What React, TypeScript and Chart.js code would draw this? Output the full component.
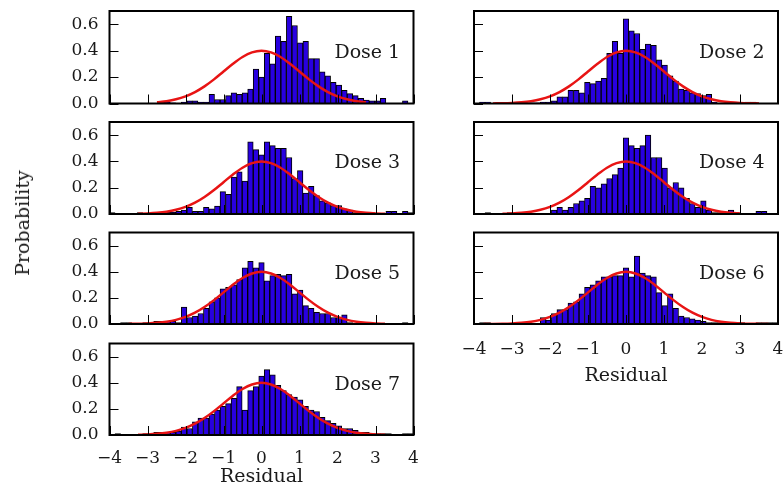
import React, { useEffect, useRef } from 'react';
import { Chart, registerables } from 'chart.js';

Chart.register(...registerables);

// ---------------- data ----------------
const BIN_START = -4;
const BIN_COUNT = 55;
const BIN_WIDTH = 8 / BIN_COUNT;

const DOSE_NAMES = ['Dose 1', 'Dose 2', 'Dose 3', 'Dose 4', 'Dose 5', 'Dose 6', 'Dose 7'];

const DOSE_1 = [
  0, 0, 0, 0, 0, 0, 0, 0, 0, 0.01, 0.01, 0.005, 0, 0.01, 0.02, 0.02, 0.01, 0.01, 0.07, 0.03,
  0.03, 0.06, 0.08, 0.07, 0.08, 0.11, 0.26, 0.2, 0.38, 0.3, 0.51, 0.47, 0.66, 0.59, 0.46, 0.47, 0.34, 0.34, 0.24, 0.21,
  0.16, 0.14, 0.1, 0.075, 0.06, 0.04, 0.025, 0.02, 0.02, 0.04, 0, 0, 0, 0.02, 0,
];
const DOSE_2 = [
  0, 0.01, 0.01, 0, 0, 0, 0, 0, 0, 0, 0.005, 0.005, 0.01, 0.01, 0.02, 0.05, 0.05, 0.1, 0.1, 0.08,
  0.16, 0.15, 0.17, 0.19, 0.38, 0.47, 0.38, 0.64, 0.55, 0.53, 0.41, 0.45, 0.44, 0.33, 0.29, 0.21, 0.17, 0.11, 0.1, 0.08,
  0.075, 0.06, 0.07, 0.01, 0, 0, 0, 0, 0, 0.01, 0.01, 0, 0, 0, 0,
];
const DOSE_3 = [
  0.01, 0.005, 0, 0, 0, 0.01, 0.005, 0, 0, 0.01, 0.015, 0.015, 0.02, 0.03, 0.05, 0.02, 0.02, 0.05, 0.04, 0.06,
  0.17, 0.15, 0.28, 0.32, 0.25, 0.55, 0.49, 0.45, 0.55, 0.52, 0.5, 0.5, 0.43, 0.27, 0.33, 0.16, 0.21, 0.14, 0.1, 0.085,
  0.065, 0.065, 0.04, 0.03, 0.01, 0.01, 0.005, 0.01, 0.005, 0, 0.02, 0.02, 0, 0.02, 0.01,
];
const DOSE_4 = [
  0, 0, 0.01, 0, 0, 0, 0.01, 0, 0, 0, 0, 0.005, 0.005, 0.005, 0.03, 0.05, 0.03, 0.05, 0.08, 0.1,
  0.12, 0.21, 0.2, 0.23, 0.27, 0.3, 0.35, 0.58, 0.52, 0.5, 0.52, 0.6, 0.43, 0.43, 0.35, 0.2, 0.24, 0.2, 0.12, 0.08,
  0.05, 0.1, 0.03, 0.01, 0.01, 0, 0.03, 0.01, 0, 0, 0, 0.02, 0.02, 0, 0,
];
const DOSE_5 = [
  0, 0, 0.01, 0.01, 0, 0, 0.01, 0.005, 0.02, 0.02, 0.02, 0.02, 0.01, 0.13, 0.05, 0.06, 0.08, 0.12, 0.17, 0.2,
  0.27, 0.28, 0.3, 0.34, 0.43, 0.48, 0.43, 0.47, 0.33, 0.37, 0.38, 0.37, 0.38, 0.23, 0.26, 0.14, 0.12, 0.09, 0.08, 0.08,
  0.05, 0.05, 0.07, 0.01, 0, 0, 0, 0, 0, 0, 0, 0, 0, 0.01, 0,
];
const DOSE_6 = [
  0, 0.01, 0.01, 0, 0, 0, 0, 0, 0, 0, 0, 0, 0.05, 0.03, 0.08, 0.11, 0.11, 0.16, 0.17, 0.23,
  0.28, 0.3, 0.33, 0.36, 0.36, 0.37, 0.37, 0.43, 0.36, 0.52, 0.39, 0.37, 0.36, 0.24, 0.14, 0.23, 0.12, 0.06, 0.05, 0.04,
  0.03, 0.02, 0.01, 0.01, 0.01, 0, 0.01, 0.01, 0.01, 0, 0, 0.01, 0.01, 0.01, 0.01,
];
const DOSE_7 = [
  0, 0.01, 0.005, 0, 0, 0, 0.01, 0.01, 0.02, 0.02, 0.02, 0.02, 0.03, 0.06, 0.05, 0.1, 0.13, 0.13, 0.16, 0.19,
  0.22, 0.24, 0.28, 0.37, 0.19, 0.34, 0.37, 0.45, 0.5, 0.46, 0.38, 0.34, 0.31, 0.29, 0.27, 0.22, 0.19, 0.18, 0.135, 0.11,
  0.09, 0.07, 0.05, 0.05, 0.035, 0.02, 0.02, 0.01, 0.01, 0.01, 0.01, 0, 0, 0.01, 0.01,
];
const DOSE_VALUES = [DOSE_1, DOSE_2, DOSE_3, DOSE_4, DOSE_5, DOSE_6, DOSE_7];

// standard normal density, sampled every 0.25
const CURVE_X = [
  -4, -3.75, -3.5, -3.25, -3, -2.75, -2.5, -2.25, -2, -1.75, -1.5, -1.25, -1, -0.75, -0.5, -0.25, 0,
  0.25, 0.5, 0.75, 1, 1.25, 1.5, 1.75, 2, 2.25, 2.5, 2.75, 3, 3.25, 3.5, 3.75, 4,
];
const CURVE_Y = [
  0.0001, 0.0004, 0.0009, 0.002, 0.0044, 0.0091, 0.0175, 0.0317, 0.054, 0.0863, 0.1295, 0.1826, 0.242, 0.3011, 0.3521, 0.3867, 0.3989,
  0.3867, 0.3521, 0.3011, 0.242, 0.1826, 0.1295, 0.0863, 0.054, 0.0317, 0.0175, 0.0091, 0.0044, 0.002, 0.0009, 0.0004, 0.0001,
];
const CURVE_SPANS = [
  [-2.75, 2.75], [-3.5, 3.5], [-3.25, 3.25], [-3.25, 3.0], [-3.5, 3.25], [-3.75, 3.75], [-3.25, 3.25],
];

const X_TICKS = [-4, -3, -2, -1, 0, 1, 2, 3, 4];
const Y_TICKS = [0, 0.2, 0.4, 0.6];
const X_MIN = -4;
const X_MAX = 4;
const Y_MIN = 0;
const Y_MAX = 0.7;
const X_LABEL = 'Residual';
const Y_LABEL = 'Probability';
const LABEL_AT = { x: 3.65, y: 0.4 };

// ---------------- layout / style ----------------
const W = 784;
const H = 491;
const FONT = '"DejaVu Serif", serif';
const TEXT = '#1a1a1a';
const BAR_FILL = '#2800e0';
const CURVE_COLOR = '#e81414';
const Y_AXIS_W = 50;
const COLS = [
  { left: 109.5, right: 413.5 },
  { left: 474, right: 778 },
];
const ROWS = [
  { top: 11, bottom: 103.5 },
  { top: 122, bottom: 214 },
  { top: 232.5, bottom: 324 },
  { top: 343.5, bottom: 435 },
];
// [col, row, x-axis height (0 = no labels), tick padding]
const PANEL_LAYOUT = [
  [0, 0, 0, 0],
  [1, 0, 0, 0],
  [0, 1, 0, 0],
  [1, 1, 0, 0],
  [0, 2, 0, 0],
  [1, 2, 61.5, 15],
  [0, 3, 51.5, 13],
];

const framePlugin = {
  id: 'frame',
  afterDatasetsDraw(chart: any, _args: any, opts: any) {
    const { ctx, chartArea: a } = chart;
    const x = chart.scales.x;
    const y = chart.scales.y;
    ctx.save();
    ctx.strokeStyle = '#000';
    ctx.lineWidth = 1;
    ctx.beginPath();
    for (const v of X_TICKS) {
      const px = Math.round(x.getPixelForValue(v)) + 0.5;
      ctx.moveTo(px, a.bottom);
      ctx.lineTo(px, a.bottom - 9);
    }
    for (const v of Y_TICKS) {
      const py = Math.round(y.getPixelForValue(v)) + 0.5;
      ctx.moveTo(a.left, py);
      ctx.lineTo(a.left + 9, py);
    }
    ctx.stroke();
    ctx.lineWidth = 2;
    ctx.strokeRect(a.left, a.top, a.right - a.left, a.bottom - a.top);
    ctx.fillStyle = TEXT;
    ctx.font = `19px ${FONT}`;
    ctx.textAlign = 'right';
    ctx.textBaseline = 'alphabetic';
    ctx.fillText(opts.label, x.getPixelForValue(LABEL_AT.x), y.getPixelForValue(LABEL_AT.y) + 7);
    ctx.restore();
  },
};

function Panel({ index }: { index: number }) {
  const ref = useRef<HTMLCanvasElement | null>(null);
  useEffect(() => {
    const [col, row, xH, tickPad] = PANEL_LAYOUT[index];
    const c = COLS[col];
    const r = ROWS[row];
    const showX = xH > 0;
    const showY = col === 0;
    const values = DOSE_VALUES[index];
    const bars = values.map((v, i) => ({ x: BIN_START + (i + 0.5) * BIN_WIDTH, y: v }));
    const [lo, hi] = CURVE_SPANS[index];
    const curve = CURVE_X.map((xv, i) => ({ x: xv, y: CURVE_Y[i] })).filter((p) => p.x >= lo && p.x <= hi);

    const chart = new Chart(ref.current as HTMLCanvasElement, {
      type: 'bar',
      data: {
        datasets: [
          {
            type: 'line',
            data: curve,
            borderColor: CURVE_COLOR,
            borderWidth: 2.5,
            pointRadius: 0,
            fill: false,
            cubicInterpolationMode: 'monotone',
            order: 0,
          } as any,
          {
            type: 'bar',
            data: bars,
            backgroundColor: BAR_FILL,
            borderColor: '#000',
            borderWidth: 1,
            barPercentage: 1,
            categoryPercentage: 1,
            order: 1,
          } as any,
        ],
      },
      options: {
        responsive: false,
        animation: false,
        events: [],
        layout: {
          padding: {
            left: c.left - Y_AXIS_W,
            right: W - c.right,
            top: r.top,
            bottom: H - r.bottom - xH,
          },
        },
        plugins: {
          legend: { display: false },
          tooltip: { enabled: false },
          title: { display: false },
          frame: { label: DOSE_NAMES[index] },
        } as any,
        scales: {
          x: {
            type: 'linear',
            min: X_MIN,
            max: X_MAX,
            offset: false,
            grid: { display: false, drawTicks: false, offset: false },
            border: { display: false },
            afterBuildTicks: (s: any) => {
              s.ticks = X_TICKS.map((v) => ({ value: v }));
            },
            afterFit: (s: any) => {
              s.height = xH;
              s.paddingLeft = 0;
              s.paddingRight = 0;
            },
            ticks: {
              display: showX,
              autoSkip: false,
              maxRotation: 0,
              padding: tickPad,
              color: TEXT,
              font: { family: FONT, size: 17 },
              callback: (v: any) => (Number(v) < 0 ? '\u2212' + Math.abs(Number(v)) : String(v)),
            },
            title: {
              display: showX,
              text: X_LABEL,
              color: TEXT,
              font: { family: FONT, size: 19, lineHeight: 1 },
              padding: 0,
            },
          } as any,
          y: {
            type: 'linear',
            min: Y_MIN,
            max: Y_MAX,
            grid: { display: false, drawTicks: false },
            border: { display: false },
            afterBuildTicks: (s: any) => {
              s.ticks = Y_TICKS.map((v) => ({ value: v }));
            },
            afterFit: (s: any) => {
              s.width = Y_AXIS_W;
              s.paddingTop = 0;
              s.paddingBottom = 0;
            },
            ticks: {
              display: showY,
              padding: 11,
              color: TEXT,
              font: { family: FONT, size: 17 },
              callback: (v: any) => Number(v).toFixed(1),
            },
          } as any,
        },
      },
      plugins: [framePlugin],
    });
    return () => chart.destroy();
  }, [index]);
  return (
    <canvas
      ref={ref}
      width={W}
      height={H}
      style={{ position: 'absolute', left: 0, top: 0, width: W, height: H }}
    />
  );
}

export default function App() {
  return (
    <div style={{ position: 'absolute', left: 0, top: 0, width: W, height: H, background: '#fff', overflow: 'hidden' }}>
      {DOSE_NAMES.map((_, i) => (
        <Panel key={i} index={i} />
      ))}
      <div
        style={{
          position: 'absolute',
          left: 22,
          top: 223,
          transform: 'translate(-50%, -50%) rotate(-90deg)',
          font: `19px ${FONT}`,
          color: TEXT,
          whiteSpace: 'nowrap',
        }}
      >
        {Y_LABEL}
      </div>
    </div>
  );
}
